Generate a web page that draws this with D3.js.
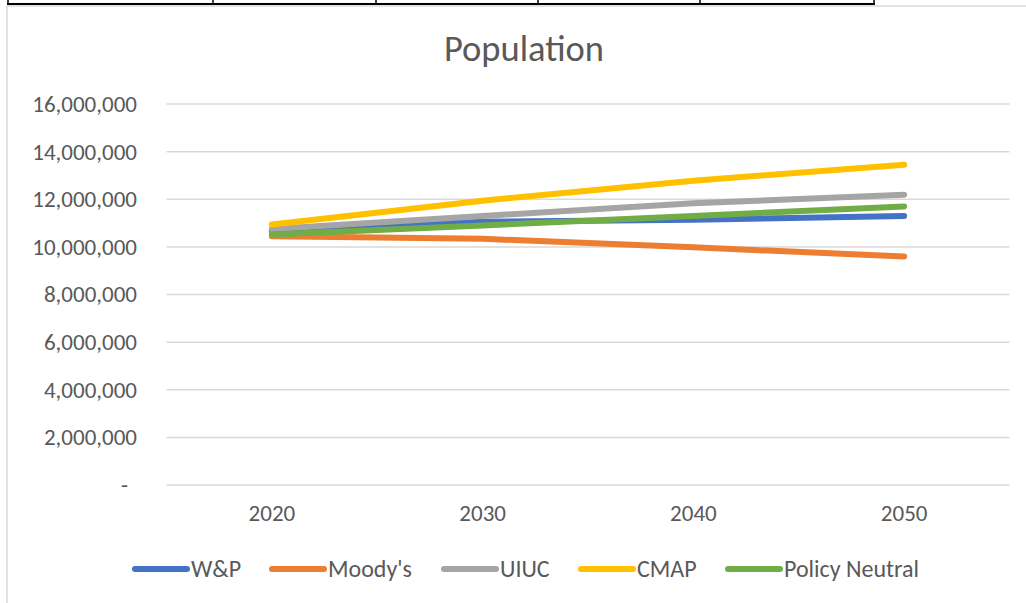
<!DOCTYPE html>
<html>
<head>
<meta charset="utf-8">
<script src="https://cdn.jsdelivr.net/npm/d3@7"></script>
<style>
  html, body { margin: 0; padding: 0; background: #fff; }
  svg { display: block; }
  text { font-family: Carlito, Calibri, "Open Sans", sans-serif; fill: #595959; }
</style>
</head>
<body>
<script>
// Population projections by source
const years = ["2020", "2030", "2040", "2050"];
const seriesNames = ["W&P", "Moody's", "UIUC", "CMAP", "Policy Neutral"];
const seriesColors = ["#4472C4", "#ED7D31", "#A5A5A5", "#FFC000", "#70AD47"];
const wpValues = [10670000, 11050000, 11140000, 11300000];
const moodysValues = [10450000, 10340000, 9980000, 9600000];
const uiucValues = [10750000, 11300000, 11830000, 12190000];
const cmapValues = [10940000, 11940000, 12780000, 13450000];
const policyNeutralValues = [10520000, 10900000, 11300000, 11700000];
const yTicks = [0, 2000000, 4000000, 6000000, 8000000, 10000000, 12000000, 14000000, 16000000];
const tableColumnEdges = [8, 213, 376, 538, 700, 874];

const allValues = [wpValues, moodysValues, uiucValues, cmapValues, policyNeutralValues];

const W = 1026, H = 603;
const svg = d3.select("body").append("svg").attr("width", W).attr("height", H);

// chart frame
svg.append("rect").attr("x", 7).attr("y", 6).attr("width", W + 10).attr("height", H + 10)
  .attr("fill", "#fff").attr("stroke", "#d9d9d9").attr("stroke-width", 1.5);

// worksheet cell borders above the chart
svg.append("line").attr("x1", 7).attr("x2", 875).attr("y1", 4).attr("y2", 4)
  .attr("stroke", "#000").attr("stroke-width", 2);
svg.selectAll(".cellEdge").data(tableColumnEdges).enter().append("line")
  .attr("x1", d => d).attr("x2", d => d).attr("y1", 0).attr("y2", 5)
  .attr("stroke", "#000").attr("stroke-width", 1.5);

const plotLeft = 166.5, plotRight = 1009.5, plotTop = 104, plotBottom = 485;

const x = d3.scaleBand().domain(years).range([plotLeft, plotRight]).paddingInner(0).paddingOuter(0);
const y = d3.scaleLinear().domain([0, 16000000]).range([plotBottom, plotTop]);
const cx = d => x(d) + x.bandwidth() / 2;

// gridlines
svg.append("g").selectAll("line").data(yTicks).enter().append("line")
  .attr("x1", plotLeft).attr("x2", plotRight)
  .attr("y1", d => y(d)).attr("y2", d => y(d))
  .attr("stroke", "#d9d9d9").attr("stroke-width", 1.5);

// y axis labels
const fmt = d3.format(",");
const yAxis = d3.axisLeft(y).tickValues(yTicks).tickSize(0).tickPadding(0)
  .tickFormat(d => d === 0 ? "-" : fmt(d));
const gy = svg.append("g").attr("transform", `translate(137,0)`).call(yAxis);
gy.select(".domain").remove();
gy.selectAll("text").style("font-size", "23px").attr("fill", "#595959")
  .attr("dx", d => d === 0 ? -9 : 0);

// x axis labels
const xAxis = d3.axisBottom(x).tickSize(0).tickPadding(0);
const gx = svg.append("g").attr("transform", `translate(0,${plotBottom + 20})`).call(xAxis);
gx.select(".domain").remove();
gx.selectAll("text").style("font-size", "23px").attr("fill", "#595959");

// series lines
const line = d3.line().x((d, i) => cx(years[i])).y(d => y(d));
svg.append("g").selectAll("path").data(allValues).enter().append("path")
  .attr("d", d => line(d))
  .attr("fill", "none")
  .attr("stroke", (d, i) => seriesColors[i])
  .attr("stroke-width", 6)
  .attr("stroke-linecap", "round")
  .attr("stroke-linejoin", "round");

// title
svg.append("text").attr("x", 524).attr("y", 61).attr("text-anchor", "middle")
  .style("font-size", "36.5px").text("Population");

// legend
const legendX = [135, 272, 444, 581, 728];
const lg = svg.append("g").selectAll("g").data(seriesNames).enter().append("g")
  .attr("transform", (d, i) => `translate(${legendX[i]},569)`);
lg.append("line").attr("x1", 0).attr("x2", 52).attr("y1", 0).attr("y2", 0)
  .attr("stroke", (d, i) => seriesColors[i]).attr("stroke-width", 6).attr("stroke-linecap", "round");
lg.append("text").attr("x", 56).attr("y", 8).style("font-size", "24px").text(d => d);
</script>
</body>
</html>
